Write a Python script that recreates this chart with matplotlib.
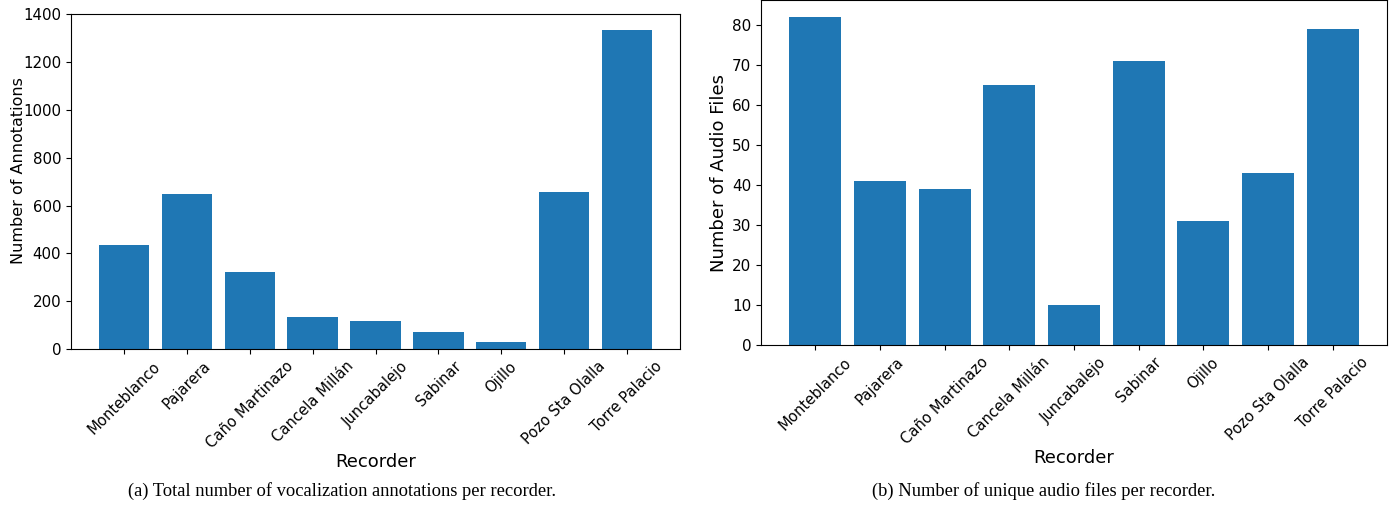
import matplotlib
matplotlib.use("Agg")
import matplotlib.pyplot as plt

recorders = ["Monteblanco", "Pajarera", "Caño Martinazo", "Cancela Millán",
             "Juncabalejo", "Sabinar", "Ojillo", "Pozo Sta Olalla", "Torre Palacio"]
annotations = [434, 646, 321, 133, 117, 71, 29, 655, 1334]
audio_files = [82, 41, 39, 65, 10, 71, 31, 43, 79]

W, H = 1400, 511
fig = plt.figure(figsize=(W / 100, H / 100), dpi=100)

color = "#1f77b4"

def px_axes(x0, y0, x1, y1):
    return fig.add_axes([x0 / W, 1 - y1 / H, (x1 - x0) / W, (y1 - y0) / H])

# (a) annotations per recorder
ax1 = px_axes(71, 14, 680, 349)
ax1.bar(recorders, annotations, color=color)
ax1.set_ylabel("Number of Annotations", fontsize=11.5)
ax1.yaxis.set_label_coords(-0.074, 0.534)
ax1.set_xlabel("Recorder", fontsize=13, labelpad=1)
ax1.tick_params(axis="y", labelsize=10.8)
ax1.tick_params(axis="x", labelsize=10.6)
plt.setp(ax1.get_xticklabels(), rotation=45)

# (b) unique audio files per recorder
ax2 = px_axes(761, 0.5, 1387, 345)
ax2.bar(recorders, audio_files, color=color)
ax2.set_ylabel("Number of Audio Files", fontsize=13, labelpad=3)
ax2.set_xlabel("Recorder", fontsize=13, labelpad=1)
ax2.tick_params(axis="y", labelsize=11)
ax2.tick_params(axis="x", labelsize=10.6)
plt.setp(ax2.get_xticklabels(), rotation=45)

fig.text(342 / W, 1 - 496 / H, "(a) Total number of vocalization annotations per recorder.",
         ha="center", va="baseline", fontsize=13.3, family="Liberation Serif")
fig.text(1044 / W, 1 - 496 / H, "(b) Number of unique audio files per recorder.",
         ha="center", va="baseline", fontsize=13.3, family="Liberation Serif")

fig.savefig("out.png", dpi=100)
